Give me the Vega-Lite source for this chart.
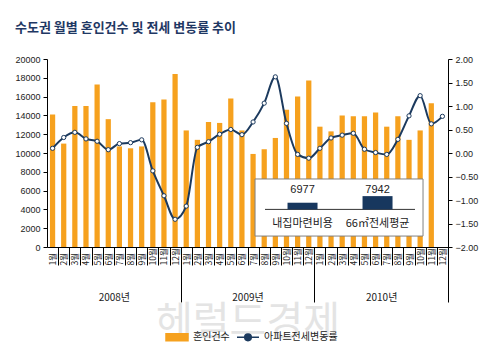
{
  "$schema": "https://vega.github.io/schema/vega-lite/v6.json",
  "width": 401,
  "height": 188,
  "padding": {"left": 14, "top": 22, "right": 5, "bottom": 0},
  "background": "white",
  "title": {
    "text": "수도권 월별 혼인건수 및 전세 변동률 추이",
    "anchor": "start",
    "frame": "bounds",
    "font": "Noto Sans CJK KR",
    "fontSize": 13,
    "fontWeight": "bold",
    "color": "#1F3864",
    "offset": 20
  },
  "config": {
    "view": {"stroke": null},
    "font": "Liberation Sans",
    "axis": {
      "grid": false,
      "labelColor": "#222222",
      "domainColor": "#000000",
      "tickColor": "#000000",
      "labelFont": "Liberation Sans",
      "labelFontSize": 9
    }
  },
  "datasets": {
    "monthly": [
      {"ym": "2008-01", "year": "2008", "count": 14100, "rate": 0.10},
      {"ym": "2008-02", "year": "2008", "count": 11000, "rate": 0.33},
      {"ym": "2008-03", "year": "2008", "count": 15000, "rate": 0.44},
      {"ym": "2008-04", "year": "2008", "count": 15000, "rate": 0.30},
      {"ym": "2008-05", "year": "2008", "count": 17300, "rate": 0.25},
      {"ym": "2008-06", "year": "2008", "count": 13600, "rate": 0.07},
      {"ym": "2008-07", "year": "2008", "count": 10700, "rate": 0.20},
      {"ym": "2008-08", "year": "2008", "count": 10500, "rate": 0.22},
      {"ym": "2008-09", "year": "2008", "count": 10700, "rate": 0.28},
      {"ym": "2008-10", "year": "2008", "count": 15400, "rate": -0.38},
      {"ym": "2008-11", "year": "2008", "count": 15700, "rate": -0.91},
      {"ym": "2008-12", "year": "2008", "count": 18400, "rate": -1.41},
      {"ym": "2009-01", "year": "2009", "count": 12400, "rate": -1.13},
      {"ym": "2009-02", "year": "2009", "count": 11400, "rate": 0.12},
      {"ym": "2009-03", "year": "2009", "count": 13300, "rate": 0.24},
      {"ym": "2009-04", "year": "2009", "count": 13200, "rate": 0.40},
      {"ym": "2009-05", "year": "2009", "count": 15800, "rate": 0.50},
      {"ym": "2009-06", "year": "2009", "count": 12400, "rate": 0.39},
      {"ym": "2009-07", "year": "2009", "count": 9900, "rate": 0.66},
      {"ym": "2009-08", "year": "2009", "count": 10400, "rate": 1.06},
      {"ym": "2009-09", "year": "2009", "count": 11600, "rate": 1.62},
      {"ym": "2009-10", "year": "2009", "count": 14600, "rate": 0.63},
      {"ym": "2009-11", "year": "2009", "count": 16000, "rate": -0.03},
      {"ym": "2009-12", "year": "2009", "count": 17700, "rate": -0.11},
      {"ym": "2010-01", "year": "2010", "count": 12800, "rate": 0.10},
      {"ym": "2010-02", "year": "2010", "count": 12300, "rate": 0.32},
      {"ym": "2010-03", "year": "2010", "count": 14000, "rate": 0.38},
      {"ym": "2010-04", "year": "2010", "count": 13900, "rate": 0.42},
      {"ym": "2010-05", "year": "2010", "count": 13900, "rate": 0.08},
      {"ym": "2010-06", "year": "2010", "count": 14300, "rate": 0.01},
      {"ym": "2010-07", "year": "2010", "count": 12800, "rate": -0.03},
      {"ym": "2010-08", "year": "2010", "count": 13900, "rate": 0.29},
      {"ym": "2010-09", "year": "2010", "count": 11400, "rate": 0.79},
      {"ym": "2010-10", "year": "2010", "count": 12400, "rate": 1.22},
      {"ym": "2010-11", "year": "2010", "count": 15300, "rate": 0.62},
      {"ym": "2010-12", "year": "2010", "rate": 0.78}
    ],
    "inset": [
      {"label": "내집마련비용", "value": 6977},
      {"label": "66㎡전세평균", "value": 7942}
    ]
  },
  "layer": [
    {
      "data": {"name": "monthly"},
      "layer": [
        {
          "mark": {"type": "bar", "color": "#F6A11E"},
          "encoding": {
            "x": {
              "field": "ym",
              "type": "ordinal",
              "sort": null,
              "scale": {"paddingInner": 0.53, "paddingOuter": 0.265},
              "axis": {
                "orient": "bottom",
                "title": null,
                "labelAngle": -90,
                "labelAlign": "left",
                "labelBaseline": "middle",
                "tickSize": 18,
                "tickOffset": 5.57,
                "labelOffset": -5.57,
                "labelPadding": 0,
                "labelFont": "Noto Sans CJK KR",
                "labelFontSize": 8.5,
                "labelExpr": "toNumber(slice(datum.value, 5)) + '월'"
              }
            },
            "y": {
              "field": "count",
              "type": "quantitative",
              "scale": {"domain": [0, 20000]},
              "axis": {
                "orient": "left",
                "title": null,
                "values": [0, 2000, 4000, 6000, 8000, 10000, 12000, 14000, 16000, 18000, 20000],
                "format": "d",
                "tickSize": 4,
                "labelPadding": 3
              }
            },
            "color": {
              "datum": "혼인건수",
              "scale": {"domain": ["혼인건수", "아파트전세변동률"], "range": ["#F6A11E", "#1C3A5E"]},
              "legend": {
                "orient": "none",
                "legendX": 118,
                "legendY": 266,
                "direction": "horizontal",
                "title": null,
                "padding": 0,
                "symbolSize": 484,
                "labelFont": "Noto Sans CJK KR",
                "labelFontSize": 10,
                "labelColor": "#222222",
                "labelOffset": 4,
                "columnPadding": 4,
                "encode": {
                  "symbols": {
                    "update": {
                      "shape": {"signal": "datum.value === '혼인건수' ? 'M-1,-0.32H1V0.32H-1Z' : 'M-1,0H-0.3M0.3,0H1M-0.3,0A0.3,0.3,0,1,0,0.3,0A0.3,0.3,0,1,0,-0.3,0'"},
                      "fill": {"signal": "datum.value === '혼인건수' ? '#F6A11E' : '#ffffff'"},
                      "stroke": {"signal": "datum.value === '혼인건수' ? '#F6A11E' : '#1C3A5E'"},
                      "strokeWidth": {"value": 1.5},
                      "opacity": {"value": 1},
                      "fillOpacity": {"value": 1}
                    }
                  }
                }
              }
            }
          }
        },
        {
          "mark": {"type": "line", "interpolate": "monotone", "strokeWidth": 2},
          "encoding": {
            "x": {"field": "ym", "type": "ordinal", "sort": null},
            "y": {
              "field": "rate",
              "type": "quantitative",
              "scale": {"domain": [-2, 2]},
              "axis": {
                "orient": "right",
                "title": null,
                "values": [-2, -1.5, -1, -0.5, 0, 0.5, 1, 1.5, 2],
                "format": ".2f",
                "tickSize": 4,
                "labelPadding": 3
              }
            },
            "color": {"datum": "아파트전세변동률"}
          }
        },
        {
          "mark": {"type": "point", "filled": true, "fill": "#ffffff", "stroke": "#1C3A5E", "strokeWidth": 1, "size": 18, "opacity": 1},
          "encoding": {
            "x": {"field": "ym", "type": "ordinal", "sort": null},
            "y": {"field": "rate", "type": "quantitative", "scale": {"domain": [-2, 2]}, "axis": null}
          }
        }
      ],
      "resolve": {"scale": {"y": "independent"}}
    },
    {
      "data": {"name": "monthly"},
      "mark": {"type": "rule", "opacity": 0},
      "encoding": {
        "x": {
          "field": "year",
          "type": "ordinal",
          "scale": {"type": "point", "padding": 0.5},
          "axis": {
            "orient": "bottom",
            "domain": false,
            "tickSize": 55,
            "tickOffset": 66.83,
            "labelOffset": -66.83,
            "labelPadding": 0,
            "labelBaseline": "bottom",
            "labelAngle": 0,
            "labelFont": "Noto Sans CJK KR",
            "labelFontSize": 10,
            "labelExpr": "datum.value + '년'",
            "title": "헤럴드경제",
            "titleFont": "Noto Sans CJK KR",
            "titleFontSize": 40,
            "titleFontWeight": "normal",
            "titleColor": "#e4e4e4",
            "titlePadding": 0
          }
        }
      }
    },
    {
      "data": {"values": [{"frame": "inset"}]},
      "layer": [
        {
          "mark": {"type": "rect", "fill": "#ffffff", "stroke": "#808080", "strokeWidth": 1},
          "encoding": {
            "x": {"datum": -0.633, "type": "quantitative", "scale": {"domain": [-3.407, 1.94], "zero": false, "nice": false}, "axis": null},
            "x2": {"datum": 1.607},
            "y": {"datum": 10450, "type": "quantitative", "scale": {"domain": [500, 28000], "zero": false, "nice": false}, "axis": null},
            "y2": {"datum": 2100}
          }
        },
        {
          "mark": {"type": "rule", "color": "#333333", "strokeWidth": 1},
          "encoding": {
            "x": {"datum": -0.5, "type": "quantitative"},
            "x2": {"datum": 1.5},
            "y": {"datum": 6000, "type": "quantitative"}
          }
        }
      ]
    },
    {
      "data": {"name": "inset"},
      "layer": [
        {
          "mark": {"type": "bar", "color": "#17375E"},
          "encoding": {
            "x": {
              "field": "label",
              "type": "nominal",
              "sort": null,
              "scale": {"domain": ["_a", "_b", "내집마련비용", "66㎡전세평균"], "paddingInner": 0.6, "paddingOuter": 0.973, "align": 0.62},
              "axis": null
            },
            "y": {"field": "value", "type": "quantitative", "scale": {"domain": [500, 28000], "zero": false, "nice": false}, "axis": null},
            "y2": {"datum": 6000}
          }
        },
        {
          "mark": {"type": "text", "fontSize": 11, "color": "#222222", "baseline": "middle", "dy": -19, "font": "Liberation Sans"},
          "encoding": {
            "x": {"field": "label", "type": "nominal", "sort": null},
            "y": {"datum": 6000, "type": "quantitative"},
            "text": {"field": "value", "type": "quantitative", "format": "d"}
          }
        },
        {
          "mark": {"type": "text", "fontSize": 11, "color": "#222222", "baseline": "middle", "dy": 15, "font": "Noto Sans CJK KR"},
          "encoding": {
            "x": {"field": "label", "type": "nominal", "sort": null},
            "y": {"datum": 6000, "type": "quantitative"},
            "text": {"field": "label", "type": "nominal"}
          }
        }
      ]
    }
  ],
  "resolve": {"scale": {"x": "independent", "y": "independent"}}
}
